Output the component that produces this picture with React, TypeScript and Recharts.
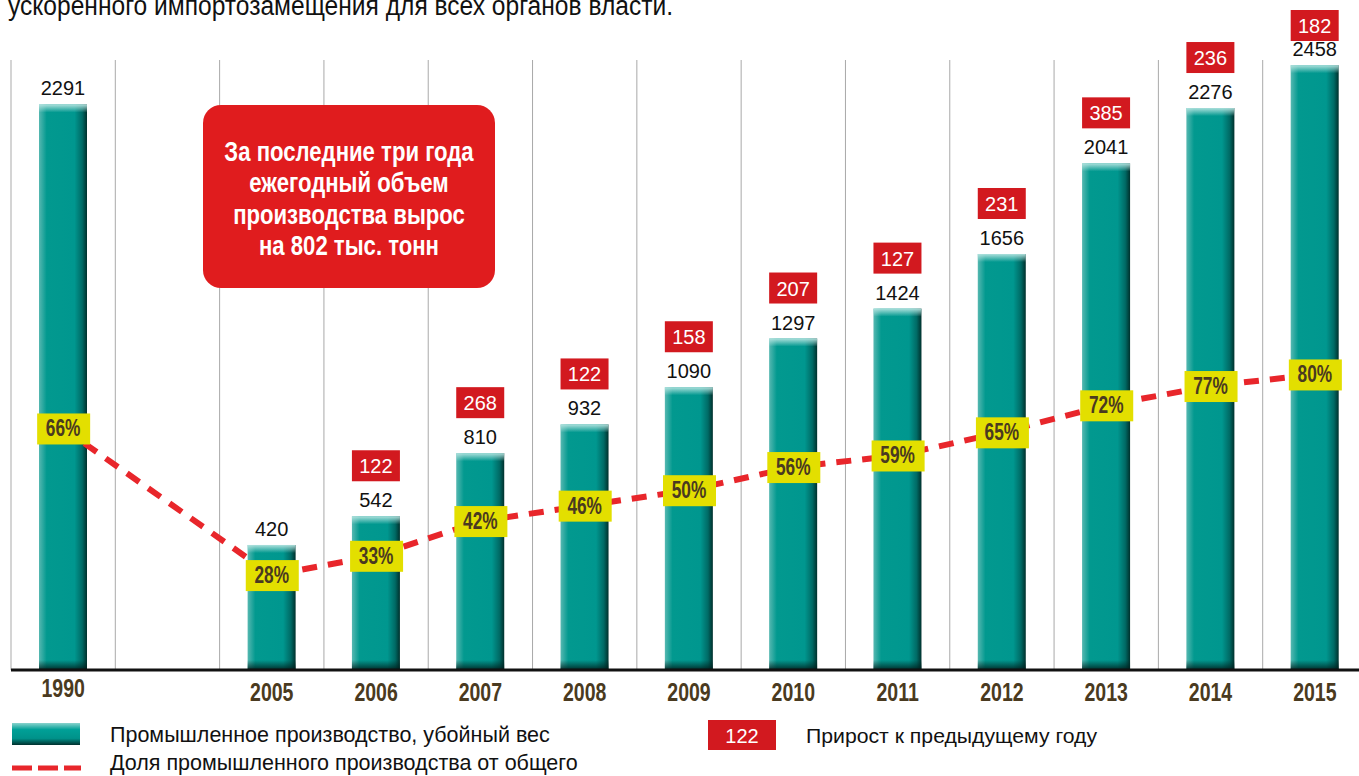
import React from "react";
import {
  ComposedChart,
  Bar,
  Line,
  XAxis,
  YAxis,
  CartesianGrid,
  LabelList,
} from "recharts";

// --- data ---
const years = ["1990", "", "2005", "2006", "2007", "2008", "2009", "2010", "2011", "2012", "2013", "2014", "2015"];
const production = [2291, null, 420, 542, 810, 932, 1090, 1297, 1424, 1656, 2041, 2276, 2458];
const growth = [null, null, null, 122, 268, 122, 158, 207, 127, 231, 385, 236, 182];
const share = [66, null, 28, 33, 42, 46, 50, 56, 59, 65, 72, 77, 80];

const noteLines = [
  "За последние три года",
  "ежегодный объем",
  "производства вырос",
  "на 802 тыс. тонн",
];

// axis ranges (the original drawing is not zero based)
const PROD_MIN = -111;
const PROD_MAX = 2480;
const SHARE_MIN = 3.4;
const SHARE_MAX = 161.5;

const chartData = years.map((year, i) => ({
  year,
  prod: production[i] == null ? null : [PROD_MIN, production[i]],
  share: share[i],
}));

const SANS = '"Liberation Sans", Arial, sans-serif';
const RED = "#d2191f";
const YELLOW = "#e3df00";
const BROWN = "#4a3a20";

// squeeze Liberation Sans horizontally to imitate a condensed face
const squeeze = (cx: number, k: number) => `translate(${cx},0) scale(${k},1) translate(${-cx},0)`;

const TealBar = (props: any) => {
  const { x, y, width, height } = props;
  if (!height || height <= 0) return null;
  return (
    <g>
      <rect x={x} y={y} width={width} height={height} fill="url(#barH)" />
      <rect x={x} y={y} width={width} height={Math.min(8, height)} fill="url(#barTop)" />
      <rect x={x} y={y + height - 10} width={width} height={10} fill="url(#barBottom)" />
    </g>
  );
};

const BarLabel = (props: any) => {
  const { x, y, width, value } = props;
  const i = years.indexOf(value);
  const v = production[i];
  if (i < 0 || v == null) return null;
  const g = growth[i];
  const cx = x + width / 2;
  const boxTop = Math.max(10, y - 66);
  return (
    <g>
      <text x={cx} y={y - 9} textAnchor="middle" fontFamily={SANS} fontSize={20} fill="#111">
        {v}
      </text>
      {g != null && (
        <g>
          <rect x={x} y={boxTop} width={width} height={31} fill={RED} />
          <text x={cx} y={boxTop + 23} textAnchor="middle" fontFamily={SANS} fontSize={20} fill="#fff">
            {g}
          </text>
        </g>
      )}
    </g>
  );
};

const ShareLabel = (props: any) => {
  const { x, y, index } = props;
  const v = share[index];
  if (v == null || x == null || y == null) return null;
  return (
    <g>
      <rect x={x - 26} y={y - 15} width={53} height={31} fill={YELLOW} />
      <text
        x={x}
        y={y + 8}
        textAnchor="middle"
        fontFamily={SANS}
        fontWeight="bold"
        fontSize={24}
        fill={BROWN}
        transform={squeeze(x, 0.72)}
      >
        {v}%
      </text>
    </g>
  );
};

const YearTick = (props: any) => {
  const { x, y, payload, index } = props;
  return (
    <text
      x={x}
      y={y + (index === 0 ? 27 : 31)}
      textAnchor="middle"
      fontFamily={SANS}
      fontWeight="bold"
      fontSize={25}
      fill={BROWN}
      transform={squeeze(x, 0.78)}
    >
      {payload.value}
    </text>
  );
};

export default function App() {
  return (
    <div style={{ position: "absolute", left: 0, top: 0, width: 1359, height: 776, overflow: "hidden", background: "#fff" }}>
      <svg width={0} height={0} style={{ position: "absolute" }}>
        <defs>
          <linearGradient id="barH" x1="0" y1="0" x2="1" y2="0">
            <stop offset="0%" stopColor="#56b8b1" />
            <stop offset="16%" stopColor="#02998f" />
            <stop offset="74%" stopColor="#00978f" />
            <stop offset="90%" stopColor="#006a65" />
            <stop offset="100%" stopColor="#00302c" />
          </linearGradient>
          <linearGradient id="barTop" x1="0" y1="0" x2="0" y2="1">
            <stop offset="0%" stopColor="#b5e4e0" stopOpacity={0.95} />
            <stop offset="100%" stopColor="#b5e4e0" stopOpacity={0} />
          </linearGradient>
          <linearGradient id="barBottom" x1="0" y1="0" x2="0" y2="1">
            <stop offset="0%" stopColor="#002a27" stopOpacity={0} />
            <stop offset="100%" stopColor="#001e1c" stopOpacity={0.9} />
          </linearGradient>
          <linearGradient id="legendBar" x1="0" y1="0" x2="0" y2="1">
            <stop offset="0%" stopColor="#8ad3cd" />
            <stop offset="30%" stopColor="#00a097" />
            <stop offset="70%" stopColor="#00928a" />
            <stop offset="100%" stopColor="#00302d" />
          </linearGradient>
        </defs>
      </svg>

      <div style={{ position: "absolute", left: 0, top: 0 }}>
        <ComposedChart
          width={1380}
          height={776}
          data={chartData}
          margin={{ top: 60, right: 13, bottom: 0, left: 11 }}
        >
          <CartesianGrid
            horizontal={false}
            stroke="#a9a9a9"
            verticalCoordinatesGenerator={({ offset }: any) =>
              years.map((_, i) => offset.left + (i * offset.width) / years.length)
            }
          />
          <XAxis
            dataKey="year"
            height={106}
            interval={0}
            tickLine={false}
            tickSize={0}
            tickMargin={0}
            axisLine={{ stroke: "#111", strokeWidth: 3 }}
            tick={<YearTick />}
          />
          <YAxis yAxisId="left" hide domain={[PROD_MIN, PROD_MAX]} allowDataOverflow />
          <YAxis yAxisId="right" hide orientation="right" domain={[SHARE_MIN, SHARE_MAX]} allowDataOverflow />
          <Bar
            yAxisId="left"
            dataKey="prod"
            barSize={48}
            shape={<TealBar />}
            isAnimationActive={false}
          >
            <LabelList dataKey="year" content={<BarLabel />} />
          </Bar>
          <Line
            yAxisId="right"
            dataKey="share"
            type="linear"
            stroke="#e8262b"
            strokeWidth={6}
            strokeDasharray="15 11"
            dot={false}
            activeDot={false}
            connectNulls
            label={<ShareLabel />}
            isAnimationActive={false}
          />
        </ComposedChart>
      </div>

      <svg width={1359} height={776} style={{ position: "absolute", left: 0, top: 0, pointerEvents: "none" }}>
        {/* heading of the page, cut by the crop as in the original */}
        <text x={8} y={15} fontFamily={SANS} fontSize={27} fill="#111" textLength={665} lengthAdjust="spacingAndGlyphs">
          ускоренного импортозамещения для всех органов власти.
        </text>

        {/* red note */}
        <rect x={203} y={105} width={292} height={183} rx={18} ry={18} fill="#e01c1e" />
        <g transform={squeeze(349, 0.82)}>
          {noteLines.map((line, i) => (
            <text
              key={i}
              x={349}
              y={161 + i * 31.5}
              textAnchor="middle"
              fontFamily={SANS}
              fontWeight="bold"
              fontSize={27}
              fill="#fff"
            >
              {line}
            </text>
          ))}
        </g>

        {/* legend */}
        <rect x={12} y={723} width={68} height={22} fill="url(#legendBar)" />
        <text x={110} y={742} fontFamily={SANS} fontSize={21.5} fill="#111">
          Промышленное производство, убойный вес
        </text>
        <line x1={12} y1={768} x2={81} y2={768} stroke="#e8262b" strokeWidth={5} strokeDasharray="20 6" />
        <text x={110} y={770} fontFamily={SANS} fontSize={21.5} fill="#111">
          Доля промышленного производства от общего
        </text>
        <rect x={708} y={720} width={68} height={30} fill={RED} />
        <text x={742} y={743} textAnchor="middle" fontFamily={SANS} fontSize={20} fill="#fff">
          122
        </text>
        <text x={806} y={743} fontFamily={SANS} fontSize={21} fill="#111" textLength={291} lengthAdjust="spacingAndGlyphs">
          Прирост к предыдущему году
        </text>
      </svg>
    </div>
  );
}
